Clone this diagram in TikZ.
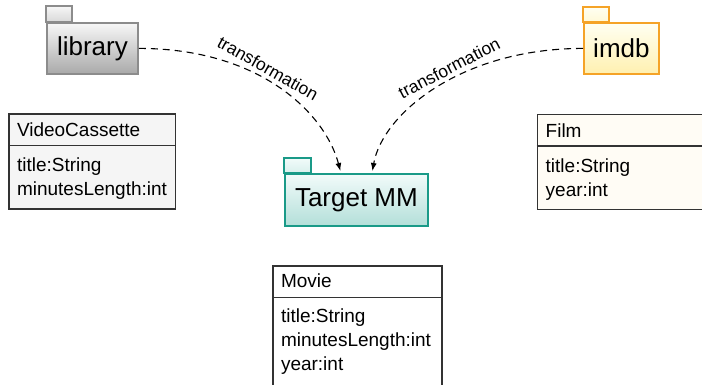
\documentclass[tikz,border=0pt]{standalone}
\usepackage{fontspec}
\setmainfont{Liberation Sans}
\usetikzlibrary{arrows.meta}
\definecolor{libline}{HTML}{8C8C8C}
\definecolor{libtop}{HTML}{F7F7F7}
\definecolor{libbot}{HTML}{A9A9A9}
\definecolor{imdbline}{HTML}{F5A327}
\definecolor{imdbtop}{HTML}{FFFFF2}
\definecolor{imdbbot}{HTML}{FFF0B0}
\definecolor{tgtline}{HTML}{1A9A88}
\definecolor{tgttop}{HTML}{F2FBFA}
\definecolor{tgtbot}{HTML}{B3DFD9}
\definecolor{vcfill}{HTML}{F5F5F5}
\definecolor{filmfill}{HTML}{FFFCF5}
\definecolor{clsline}{HTML}{333333}
\newcommand{\pkgfont}{\fontsize{26}{30}\selectfont}
\newcommand{\clsfont}{\fontsize{19}{22}\selectfont}
\newcommand{\lblfont}{\fontsize{17.5}{20}\selectfont}
\begin{document}
\begin{tikzpicture}[x=1pt,y=-1pt,
  pkg/.style={line width=1.8pt, inner sep=0pt, anchor=north west, font=\pkgfont},
  cls/.style={draw=clsline, line width=1.3pt, anchor=north west, inner sep=0pt},
  clsdiv/.style={draw=clsline, line width=1.3pt},
  clstext/.style={anchor=base west, inner sep=0pt, font=\clsfont},
  conn/.style={draw=black, line width=1.1pt, dash pattern=on 7pt off 5pt, -{Latex[length=8pt,width=6pt]}},
  lbl/.style={sloped, anchor=south, inner sep=1pt, yshift=3pt, font=\lblfont}
]
\useasboundingbox (0,0) rectangle (702,384);
\clip (0,0) rectangle (702,384);

% packages
\draw[line width=1.8pt, draw=libline, top color=libtop, bottom color=libtop!60!libbot] (46,6) rectangle (72,22);
\node[pkg, draw=libline, top color=libtop, bottom color=libbot, minimum width=91pt, minimum height=51pt] (lib) at (46,22) {library};

\draw[line width=1.8pt, draw=imdbline, top color=imdbtop, bottom color=imdbtop!60!imdbbot] (583,7) rectangle (609,22);
\node[pkg, draw=imdbline, top color=imdbtop, bottom color=imdbbot, minimum width=75pt, minimum height=51pt] (imdb) at (583,22) {imdb};

\draw[line width=1.8pt, draw=tgtline, top color=tgttop, bottom color=tgttop!60!tgtbot] (284,158) rectangle (311,173);
\node[pkg, draw=tgtline, top color=tgttop, bottom color=tgtbot, minimum width=143pt, minimum height=52pt] (tgt) at (284,173) {Target MM};

% classes
\node[cls, fill=vcfill, minimum width=166.7pt, minimum height=95pt] (vc) at (8.3,113.3) {};
\draw[clsdiv] ([yshift=-32pt]vc.north west) -- ([yshift=-32pt]vc.north east);
\node[clstext] (vcname) at ([xshift=8.5pt,yshift=-23.5pt]vc.north west) {VideoCassette};
\node[clstext] (vca1) at ([xshift=8.5pt,yshift=-58pt]vc.north west) {title:String};
\node[clstext] (vca2) at ([xshift=8.5pt,yshift=-82.3pt]vc.north west) {minutesLength:int};

\node[cls, fill=filmfill, minimum width=200pt, minimum height=95.5pt] (film) at (536.5,113.5) {};
\draw[clsdiv] ([yshift=-32.5pt]film.north west) -- ([yshift=-32.5pt]film.north east);
\node[clstext] (filmname) at ([xshift=9pt,yshift=-23.5pt]film.north west) {Film};
\node[clstext] (filma1) at ([xshift=9pt,yshift=-58.5pt]film.north west) {title:String};
\node[clstext] (filma2) at ([xshift=9pt,yshift=-82.8pt]film.north west) {year:int};

\node[cls, fill=white, minimum width=169pt, minimum height=150pt] (mov) at (272.3,265.3) {};
\draw[clsdiv] ([yshift=-32.3pt]mov.north west) -- ([yshift=-32.3pt]mov.north east);
\node[clstext] (movname) at ([xshift=8.5pt,yshift=-22.5pt]mov.north west) {Movie};
\node[clstext] (mova1) at ([xshift=8.5pt,yshift=-57pt]mov.north west) {title:String};
\node[clstext] (mova2) at ([xshift=8.5pt,yshift=-81.3pt]mov.north west) {minutesLength:int};
\node[clstext] (mova3) at ([xshift=8.5pt,yshift=-105.6pt]mov.north west) {year:int};

% connectors
\draw[conn] (lib.east) .. controls +(122,0) and +(-15,-57) .. node[lbl, pos=0.42] (lblL) {transformation} ([xshift=-16pt,yshift=2pt]tgt.north);
\draw[conn] (imdb.west) .. controls +(-122,0) and +(10,-57) .. node[lbl, pos=0.42] (lblR) {transformation} ([xshift=16pt,yshift=2pt]tgt.north);
\end{tikzpicture}
\end{document}
